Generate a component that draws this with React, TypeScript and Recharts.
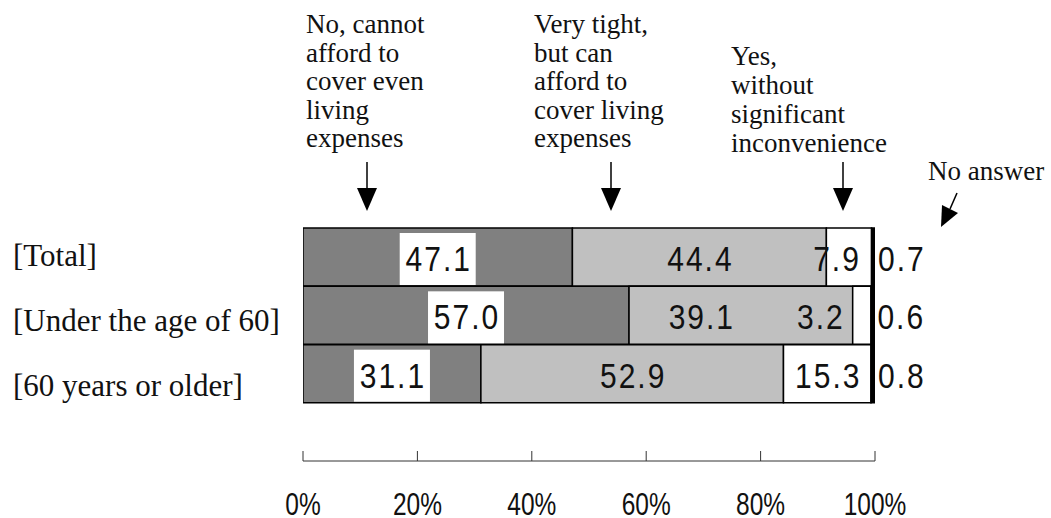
import { BarChart, Bar, XAxis, YAxis, LabelList } from 'recharts';

const groups = ['[Total]', '[Under the age of 60]', '[60 years or older]'];
const cannotAfford = [47.1, 57.0, 31.1];
const tightButCan = [44.4, 39.1, 52.9];
const withoutInconvenience = [7.9, 3.2, 15.3];
const noAnswer = [0.7, 0.6, 0.8];
const percentTicks = [0, 20, 40, 60, 80, 100];

const cannotLines = ['No, cannot', 'afford  to', 'cover even', 'living', 'expenses'];
const tightLines = ['Very tight,', 'but can', 'afford to', 'cover living', 'expenses'];
const yesLines = ['Yes,', 'without', 'significant', 'inconvenience'];
const noAnswerName = 'No answer';

// small label nudges, per row
const tightNudge = [0, -40, 0];
const yesNudge = [-13, -42, 0];

const data = groups.map((group, i) => ({
  group,
  cannot: cannotAfford[i],
  tight: tightButCan[i],
  yes: withoutInconvenience[i],
  none: noAnswer[i],
}));

const SERIF = '"Liberation Serif", "Times New Roman", serif';
const SANS = '"Liberation Sans", Arial, sans-serif';

const fmt = (v: any) => Number(v).toFixed(1);

// numbers in the picture are tall and a little spaced out
const Num = ({ x, y, anchor = 'middle', children }: any) => (
  <text
    transform={`translate(${x},${y}) scale(1,1.16)`}
    textAnchor={anchor}
    fontFamily={SANS}
    fontSize={30}
    letterSpacing={2}
    fill="#111"
  >
    {children}
  </text>
);

const BoxedLabel = (props: any) => {
  const { x, y, width, height, value } = props;
  const cx = x + width / 2;
  return (
    <g>
      <rect x={cx - 38} y={y + 5} width={76} height={52} fill="#fff" />
      <Num x={cx + 1} y={y + height / 2 + 14}>{fmt(value)}</Num>
    </g>
  );
};

const makeCenterLabel = (nudge: number[]) => (props: any) => {
  const { x, y, width, height, value, index } = props;
  return <Num x={x + width / 2 + 1 + (nudge[index] || 0)} y={y + height / 2 + 14}>{fmt(value)}</Num>;
};

const OutsideLabel = (props: any) => {
  const { x, y, width, height, value } = props;
  return (
    <Num x={x + width + 3} y={y + height / 2 + 14} anchor="start">
      {fmt(value)}
    </Num>
  );
};

const GroupTick = ({ y, payload, index }: any) => (
  <text x={13} y={y + 9 + index * 6.5} fontFamily={SERIF} fontSize={31} fill="#111">
    {payload.value}
  </text>
);

const PercentTick = ({ x, y, payload }: any) => (
  <g>
    <line x1={x} x2={x} y1={y - 10} y2={y} stroke="#333" />
    <text
      transform={`translate(${x},${y + 54}) scale(1,1.31)`}
      textAnchor="middle"
      fontFamily={SANS}
      fontSize={24.5}
      fill="#111"
    >
      {payload.value}%
    </text>
  </g>
);

const DownArrow = ({ x }: { x: number }) => (
  <g>
    <line x1={x} x2={x} y1={162} y2={190} stroke="#000" strokeWidth={1.5} />
    <polygon points={`${x - 10},188 ${x + 10},188 ${x},211`} fill="#000" />
  </g>
);

const Annotations = () => (
  <svg width={1051} height={518} style={{ position: 'absolute', left: 0, top: 0, pointerEvents: 'none' }}>
    <g fontFamily={SERIF} fontSize={27} fill="#111" style={{ whiteSpace: 'pre' }}>
      {cannotLines.map((t, i) => (
        <text key={'c' + i} x={306} y={33 + i * 28.5}>{t}</text>
      ))}
      {tightLines.map((t, i) => (
        <text key={'t' + i} x={534} y={33 + i * 28.5}>{t}</text>
      ))}
      {yesLines.map((t, i) => (
        <text key={'y' + i} x={731} y={65 + i * 29}>{t}</text>
      ))}
      <text x={928} y={180}>{noAnswerName}</text>
    </g>
    <DownArrow x={367} />
    <DownArrow x={611} />
    <DownArrow x={843} />
    <line x1={957} y1={193} x2={950} y2={209} stroke="#000" strokeWidth={1.5} />
    <polygon points="941,227 958,213 942,205" fill="#000" />
  </svg>
);

export default function App() {
  return (
    <div style={{ position: 'absolute', left: 0, top: 0, width: 1051, height: 518, background: '#fff' }}>
      <BarChart
        width={1051}
        height={518}
        data={data}
        layout="vertical"
        margin={{ top: 228, right: 176, bottom: 0, left: 13 }}
        barCategoryGap={0}
      >
        <XAxis
          type="number"
          domain={[0, 100]}
          allowDataOverflow
          ticks={percentTicks}
          height={57}
          axisLine={{ stroke: '#333' }}
          tickLine={false}
          tickSize={0}
          tickMargin={0}
          tick={<PercentTick />}
        />
        <YAxis
          type="category"
          dataKey="group"
          width={290}
          axisLine={false}
          tickLine={false}
          padding={{ top: 0, bottom: 58 }}
          tick={<GroupTick />}
        />
        <Bar dataKey="cannot" stackId="a" fill="#808080" stroke="#000" strokeWidth={1.5} isAnimationActive={false}>
          <LabelList dataKey="cannot" content={<BoxedLabel />} />
        </Bar>
        <Bar dataKey="tight" stackId="a" fill="#c0c0c0" stroke="#000" strokeWidth={1.5} isAnimationActive={false}>
          <LabelList dataKey="tight" content={makeCenterLabel(tightNudge)} />
        </Bar>
        <Bar dataKey="yes" stackId="a" fill="#ffffff" stroke="#000" strokeWidth={1.5} isAnimationActive={false}>
          <LabelList dataKey="yes" content={makeCenterLabel(yesNudge)} />
        </Bar>
        <Bar dataKey="none" stackId="a" fill="#000000" stroke="#000" strokeWidth={1.5} isAnimationActive={false}>
          <LabelList dataKey="none" content={<OutsideLabel />} />
        </Bar>
      </BarChart>
      <Annotations />
    </div>
  );
}
